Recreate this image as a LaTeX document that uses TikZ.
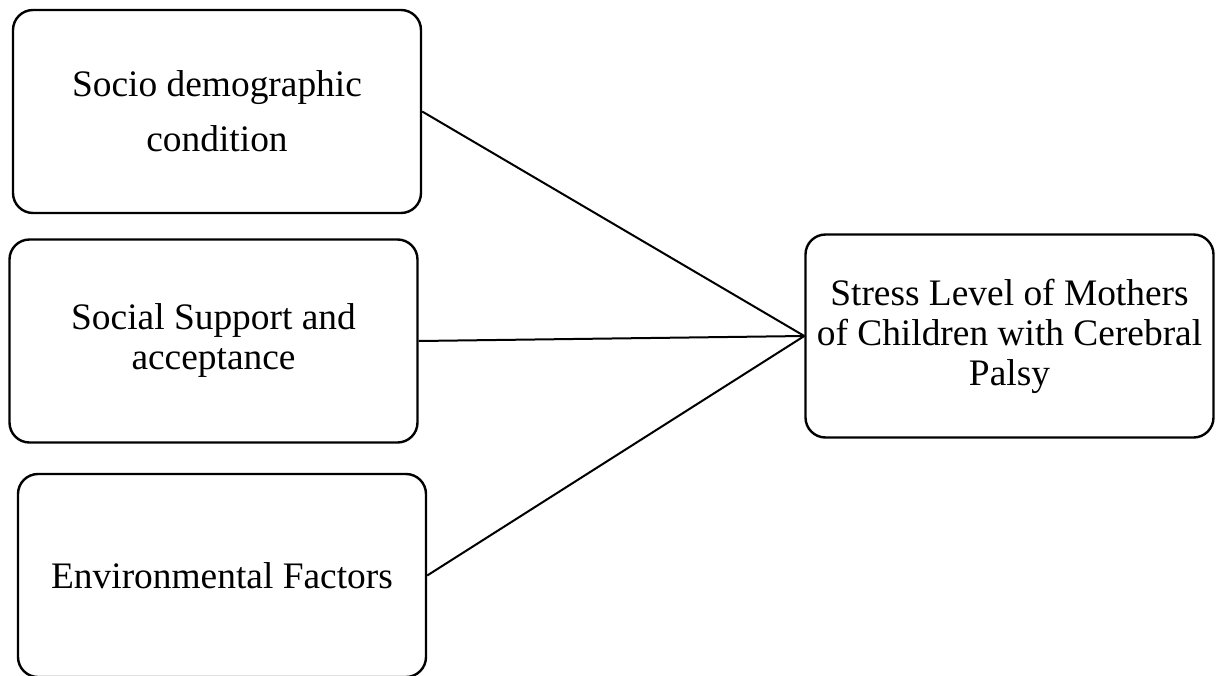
\documentclass[tikz,border=0pt]{standalone}
\usepackage{fontspec}
\setmainfont{Liberation Serif}
\begin{document}
\begin{tikzpicture}[x=1pt,y=-1pt,
  factorbox/.style={draw=black, line width=2.4pt, rounded corners=20pt,
    minimum width=408pt, minimum height=203pt, inner sep=0pt, align=center,
    font=\fontsize{37.4}{40}\selectfont},
  link/.style={draw=black, line width=2pt}]
\useasboundingbox (0,0) rectangle (1221,675);
\clip (0,0) rectangle (1221,675);
\node[factorbox] (socio) at (217,111.5) {Socio demographic\\[15pt]condition};
\node[factorbox] (support) at (213.5,341) {Social Support and\\acceptance};
\node[factorbox] (env) at (222,575.5) {Environmental Factors};
\node[factorbox] (stress) at (1009.5,336) {Stress Level of Mothers\\of Children with Cerebral\\Palsy};
\draw[link] (socio.east) -- (stress.west);
\draw[link] (support.east) -- (stress.west);
\draw[link] (env.east) -- (stress.west);
\end{tikzpicture}
\end{document}
